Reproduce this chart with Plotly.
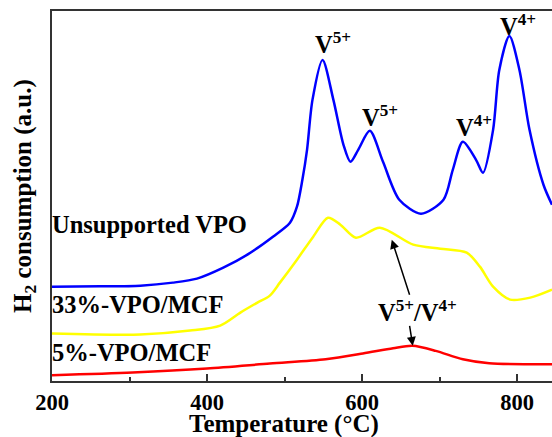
import plotly.graph_objects as go

# Temperature (°C) and H2 consumption (a.u.)
t_blue = [200, 262, 314, 356, 387, 421, 452, 485, 507, 516, 523, 529, 536, 549, 563, 576, 585, 595, 610, 627, 648, 676, 705, 717, 730, 747, 756, 769, 777, 790, 803, 816, 834, 845]
h_blue = [94.5, 94.8, 95.5, 98.5, 102.5, 113.5, 126.5, 144.5, 158.5, 174.5, 201.5, 231.5, 281.5, 321.5, 281.5, 236.5, 219.5, 231.5, 250.5, 219.5, 181.5, 167.5, 181.5, 211.5, 239.5, 221.5, 208.5, 251.5, 311.5, 345.5, 311.5, 251.5, 196.5, 176.5]

t_yellow = [200, 314, 378, 417, 443, 465, 481, 494, 516, 537, 556, 572, 592, 623, 666, 701, 735, 752, 769, 791, 817, 845]
h_yellow = [47.5, 46.5, 50.5, 55.5, 68.5, 78.5, 85.5, 98.5, 121.5, 144.5, 163.5, 156.5, 143.5, 153.5, 136.5, 132.5, 128.5, 114.5, 94.5, 81.5, 83.5, 91.5]

t_red = [200, 304, 400, 481, 553, 601, 640, 665, 695, 730, 764, 845]
h_red = [5.8, 8.5, 12.5, 17.5, 21.8, 27.5, 32.8, 35.2, 30.2, 21.8, 17.8, 16.8]

x_ticks = [200, 400, 600, 800]

FONT = "Liberation Serif"

fig = go.Figure()
for t, h, c in [(t_blue, h_blue, "#0000ff"), (t_yellow, h_yellow, "#ffff00"), (t_red, h_red, "#ff0000")]:
    fig.add_trace(go.Scatter(x=t, y=h, mode="lines", line=dict(color=c, width=2.5, shape="spline", smoothing=0.8),
                             showlegend=False, hoverinfo="skip"))

ann = []
def txt(x, y, s, xanchor="center", size=24.5, xshift=0):
    ann.append(dict(x=x, y=y, xref="x", yref="y", text="<b>" + s + "</b>", showarrow=False, xshift=xshift,
                    xanchor=xanchor, yanchor="middle", font=dict(family=FONT, size=size, color="black")))

txt(200.5, 156.5, "Unsupported VPO", "left", xshift=-2)
txt(200.5, 77, "33%-VPO/MCF", "left", xshift=-2)
txt(200.5, 29, "5%-VPO/MCF", "left", xshift=-2)
txt(562.6, 338, "V<sup>5+</sup>")
txt(623, 265, "V<sup>5+</sup>")
txt(744.6, 255, "V<sup>4+</sup>")
txt(800.6, 356, "V<sup>4+</sup>")
txt(671, 70, "V<sup>5+</sup>/V<sup>4+</sup>")

for (tx, ty, hx, hy) in [(661.9, 84.8, 638.3, 141.5), (661.0, 56.8, 665.4, 35.2)]:
    ann.append(dict(x=hx, y=hy, ax=tx, ay=ty, xref="x", yref="y", axref="x", ayref="y", text="",
                    showarrow=True, arrowhead=2, arrowsize=1.2, arrowwidth=1.5, arrowcolor="black"))

ann.append(dict(x=(284 - 52) / 500, y=-0.073, xref="paper", yref="paper", text="<b>Temperature (°C)</b>",
                showarrow=False, xanchor="center", yanchor="top", font=dict(family=FONT, size=25, color="black")))
ann.append(dict(x=(24 - 52) / 500, y=0.5, xref="paper", yref="paper", text="<b>H<sub>2</sub> consumption (a.u.)</b>",
                showarrow=False, xanchor="center", yanchor="middle", textangle=-90,
                font=dict(family=FONT, size=25, color="black")))

fig.update_layout(
    width=552, height=437,
    margin=dict(l=52, r=0, t=11, b=56),
    plot_bgcolor="white", paper_bgcolor="white",
    annotations=ann,
    xaxis=dict(range=[200, 845], tickvals=x_ticks, ticktext=[str(v) for v in x_ticks],
               ticks="inside", ticklen=7, tickwidth=1.5, tickcolor="#333",
               showline=True, linecolor="#333", linewidth=2, mirror=True,
               showgrid=False, zeroline=False,
               tickfont=dict(family=FONT, size=22.5, color="black", weight="bold"),
               minor=dict(tickvals=[300, 500, 700], ticks="inside", ticklen=4, tickwidth=1.5, tickcolor="#333")),
    yaxis=dict(range=[0, 370.5], showticklabels=False, ticks="", showline=True, linecolor="#333", linewidth=2,
               showgrid=False, zeroline=False),
)

fig.write_html("out.html")
